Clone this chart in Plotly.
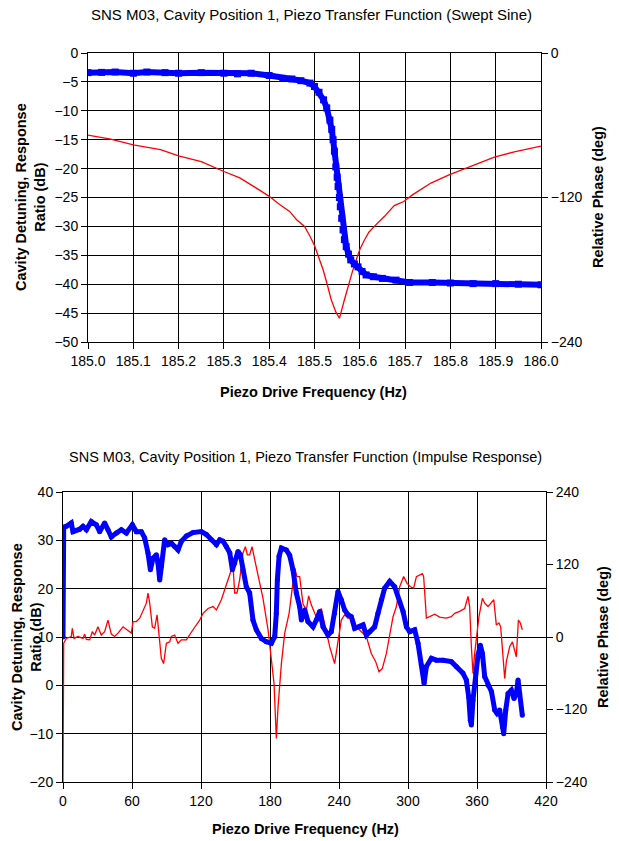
import plotly.graph_objects as go

# ---------------- Top chart: swept sine ----------------
top_red_freq = [185.00, 185.05, 185.10, 185.16, 185.20, 185.25, 185.30, 185.335, 185.37, 185.40,
                185.423, 185.445, 185.46, 185.478, 185.49, 185.50, 185.51, 185.519, 185.528, 185.537,
                185.547, 185.555, 185.565, 185.574, 185.583, 185.592, 185.60, 185.61, 185.62, 185.632,
                185.654, 185.676, 185.697, 185.717, 185.757, 185.797, 185.846, 185.897, 185.941, 186.00]
top_red_db = [-14.2, -14.9, -15.9, -16.7, -17.8, -18.8, -20.5, -21.6, -23.3, -24.8,
              -26.2, -27.4, -28.8, -30.0, -31.7, -33.3, -35.5, -37.5, -40.0, -42.7,
              -44.8, -45.9, -43.0, -40.4, -38.0, -35.8, -34.0, -32.4, -31.0, -30.0,
              -28.3, -26.4, -25.7, -24.5, -22.5, -21.1, -19.6, -18.0, -17.1, -16.1]

top_blue_freq = [185.00, 185.03, 185.06, 185.10, 185.13, 185.17, 185.20, 185.25, 185.30, 185.33,
                 185.36, 185.40, 185.43, 185.45, 185.47, 185.49, 185.50, 185.51, 185.52, 185.527,
                 185.534, 185.538, 185.541, 185.544, 185.547, 185.550, 185.552, 185.555, 185.557, 185.560,
                 185.563, 185.566, 185.570, 185.575, 185.580, 185.588, 185.596, 185.605, 185.614, 185.63,
                 185.65, 185.68, 185.71, 185.76, 185.80, 185.85, 185.90, 185.95, 186.00]
top_blue_deg = [-16.3, -16.1, -15.8, -16.8, -15.8, -16.3, -16.8, -16.3, -16.8, -17.3,
                -16.8, -18.7, -21.1, -21.6, -23.0, -25.0, -27.8, -32.6, -38.9, -45.6,
                -55.7, -63.4, -72.0, -81.6, -94.6, -103.2, -110.9, -120.0, -127.7, -137.3,
                -146.9, -155.0, -160.8, -167.0, -171.8, -175.2, -177.6, -181.4, -184.3, -185.8,
                -187.2, -188.6, -190.6, -190.6, -191.0, -191.5, -191.5, -192.0, -192.5]

# ---------------- Bottom chart: impulse response ----------------
bot_red_freq = [0, 0.6, 2.9, 7.2, 8.1, 9.6, 13.0, 17.4, 18.8, 20.3, 23.2, 25.5, 27.5, 30.4, 33.3,
                36.2, 39.1, 42.0, 44.9, 47.8, 52.2, 55.1, 59.4, 60.9, 63.8, 66.7, 69.6, 72.5, 73.9,
                75.4, 77.7, 79.7, 81.8, 83.5, 85.5, 87.5, 89.9, 92.8, 94.2, 97.1, 100.0, 102.9, 107.3,
                113.0, 118.9, 121.8, 126.1, 130.5, 133.4, 137.7, 140.6, 143.5, 146.4, 147.8, 149.3,
                151.3, 153.6, 156.5, 158.6, 160.3, 162.3, 164.4, 166.7, 169.6, 173.9, 178.3, 181.2,
                183.5, 185.5, 187.0, 189.9, 192.8, 196.6, 199.5, 201.5, 203.5, 205.8, 208.7, 211.6,
                213.6, 216.0, 218.9, 220.3, 224.6, 227.5, 231.9, 236.2, 239.1, 242.0, 244.9, 247.8,
                252.2, 255.1, 259.4, 263.8, 268.1, 271.9, 274.8, 277.7, 281.2, 284.1, 287.0, 289.9,
                292.8, 296.2, 299.2, 302.1, 304.9, 307.3, 310.2, 312.5, 313.6, 316.0, 318.9, 323.2,
                327.5, 333.3, 337.7, 340.6, 344.9, 349.3, 352.2, 353.6, 355.1, 356.5, 358.0, 359.4,
                361.7, 364.7, 366.7, 369.6, 372.6, 374.6, 376.8, 379.1, 380.6, 382.6, 384.1, 385.5,
                388.4, 390.8, 392.8, 394.2, 396.0, 397.7, 399.4]
bot_red_db = [-20, 8.7, 9.7, 10.1, 11.8, 9.7, 10.1, 9.7, 10.6, 9.5, 9.4, 11.1, 10.4, 12.1, 10.4,
              11.1, 13.5, 10.6, 10.1, 10.8, 12.1, 11.5, 10.8, 13.2, 13.2, 13.9, 15.6, 17.0, 19.1,
              17.0, 12.1, 11.8, 14.6, 10.8, 5.6, 4.5, 8.7, 9.0, 10.1, 10.4, 8.7, 9.4, 9.4,
              11.5, 13.5, 14.9, 15.9, 16.3, 15.6, 17.7, 19.8, 21.8, 23.9, 24.9, 19.1,
              19.1, 21.8, 27.4, 28.7, 27.0, 27.0, 28.7, 26.0, 22.5, 18.0, 11.5, 5.2,
              0.4, -11.0, -4.4, 4.5, 10.8, 14.9, 20.4, 24.2, 22.5, 22.5, 16.8, 15.6,
              18.5, 16.6, 14.9, 14.2, 15.9, 12.5, 8.0, 4.5, 9.4, 13.5, 14.6, 13.9,
              14.2, 12.1, 11.1, 10.1, 6.6, 4.9, 2.8, 3.5, 6.6, 10.1, 14.2, 16.3,
              20.4, 22.5, 21.1, 20.4, 20.1, 22.5, 22.9, 23.1, 22.5, 13.9, 14.2, 14.7,
              14.1, 13.9, 14.2, 14.9, 15.3, 15.9, 18.4, 16.3, 8.0, 2.5, 6.6, 10.1,
              14.2, 18.0, 17.0, 16.3, 17.3, 17.7, 12.5, 12.9, 12.1, 5.9, 1.4, 4.9,
              8.0, 9.0, 7.3, 5.9, 13.5, 12.9, 11.5]

bot_blue_freq = [0, 0.6, 2.9, 5.8, 7.2, 8.7, 14.5, 17.4, 20.3, 24.6, 29.0, 31.9, 36.2, 39.1, 42.0,
                 46.4, 50.7, 55.1, 60.3, 63.8, 68.1, 71.0, 73.9, 76.0, 78.3, 81.2, 82.6, 84.1, 85.5,
                 88.4, 91.3, 94.2, 97.1, 100.0, 102.9, 107.3, 113.0, 120.3, 124.7, 129.0, 133.4,
                 136.3, 139.2, 142.0, 145.0, 147.3, 149.3, 152.2, 154.2, 156.5, 159.4, 162.3, 165.2,
                 168.1, 172.5, 176.8, 181.2, 184.1, 185.5, 186.4, 187.9, 189.9, 194.2, 197.1, 200.0,
                 202.9, 205.8, 207.3, 210.2, 213.0, 217.4, 220.3, 223.2, 226.1, 230.4, 233.3, 236.2,
                 239.1, 242.0, 244.9, 247.8, 250.7, 253.6, 258.0, 260.9, 263.8, 266.7, 271.0, 273.9,
                 276.8, 279.7, 284.1, 288.4, 292.8, 295.7, 298.6, 301.5, 305.8, 308.7, 311.6, 314.0,
                 316.0, 320.3, 324.6, 330.4, 337.7, 342.0, 347.8, 350.7, 352.8, 354.2, 355.1, 356.5,
                 358.9, 360.9, 362.9, 364.7, 366.7, 369.6, 372.6, 375.4, 377.4, 379.7, 382.1, 383.2,
                 385.0, 387.0, 389.9, 392.2, 394.2, 395.7, 397.1, 399.4]
bot_blue_deg = [0.0, 181.6, 183.2, 185.6, 188.8, 174.4, 178.4, 183.2, 177.6, 191.2, 185.6, 174.4, 188.8, 177.6, 165.6,
                172.0, 177.6, 172.0, 185.6, 174.4, 174.4, 164.0, 139.2, 111.2, 130.4, 136.0, 122.4, 94.4, 116.8,
                160.8, 152.8, 155.2, 149.6, 144.0, 158.4, 167.2, 172.8, 174.4, 169.6, 160.8, 152.8,
                160.8, 158.4, 149.6, 139.2, 111.2, 122.4, 141.6, 136.0, 111.2, 83.2, 72.8, 28.0,
                12.0, -2.4, -8.0, -10.4, 0.8, 39.2, 94.4, 133.6, 147.2, 144.0, 135.2, 111.2,
                72.8, 50.4, 28.0, 44.8, 25.6, 16.8, 28.0, 42.4, 16.8, 3.2, 8.8, 39.2,
                75.2, 61.6, 44.8, 36.8, 33.6, 14.4, 16.8, 20.0, 3.2, 8.8, 16.8, 39.2,
                61.6, 80.8, 92.0, 83.2, 58.4, 42.4, 16.8, 8.8, 12.0, -10.4, -46.4, -76.8,
                -48.8, -35.2, -38.4, -38.4, -40.8, -48.8, -60.0, -71.2, -99.2, -137.6, -145.6, -104.8,
                -60.0, -29.6, -13.6, -27.2, -65.6, -80.0, -90.4, -120.8, -126.4, -120.8, -148.8, -160.0,
                -120.8, -93.6, -88.0, -101.6, -93.6, -71.2, -93.6, -129.6]

top_title = "SNS M03, Cavity Position 1, Piezo Transfer Function (Swept Sine)"
bot_title = "SNS M03, Cavity Position 1, Piezo Transfer Function (Impulse Response)"
x_title = "Piezo Drive Frequency (Hz)"
y_left_title = "Cavity Detuning, Response<br>Ratio (dB)"
y_right_title = "Relative Phase (deg)"

W, H = 619, 841
FONT = "Liberation Sans, Arial, sans-serif"
BLUE = "#0000FF"
RED = "#FF0000"

def px(x):
    return x / W

def py(y):
    return 1 - y / H

fig = go.Figure()

fig.add_trace(go.Scatter(x=top_blue_freq, y=top_blue_deg, xaxis="x", yaxis="y2", mode="lines+markers",
                         line=dict(color=BLUE, width=6), marker=dict(symbol="square", size=7, color=BLUE),
                         showlegend=False))
fig.add_trace(go.Scatter(x=top_red_freq, y=top_red_db, xaxis="x", yaxis="y", mode="lines",
                         line=dict(color=RED, width=1.3), showlegend=False))
fig.add_trace(go.Scatter(x=bot_blue_freq, y=bot_blue_deg, xaxis="x2", yaxis="y4", mode="lines+markers",
                         line=dict(color=BLUE, width=5), marker=dict(symbol="circle", size=5, color=BLUE),
                         showlegend=False))
fig.add_trace(go.Scatter(x=bot_red_freq, y=bot_red_db, xaxis="x2", yaxis="y3", mode="lines",
                         line=dict(color=RED, width=1.3), showlegend=False))

axis_common = dict(showline=True, linecolor="black", linewidth=1, ticks="outside", ticklen=6,
                   tickcolor="black", tickfont=dict(family=FONT, size=14, color="black"),
                   zeroline=False, gridcolor="black", gridwidth=1, automargin=False)

top_dom_x = [px(88), px(541)]
top_dom_y = [py(342), py(53)]
bot_dom_x = [px(63), px(546)]
bot_dom_y = [py(782), py(492)]

fig.update_layout(
    width=W, height=H, margin=dict(l=0, r=0, t=0, b=0, autoexpand=False),
    paper_bgcolor="white", plot_bgcolor="white",
    font=dict(family=FONT, color="black"),
    xaxis=dict(domain=top_dom_x, anchor="y", range=[185.0, 186.0], dtick=0.1, tick0=185.0,
               tickformat=".1f", showgrid=True, mirror=True, **axis_common),
    yaxis=dict(domain=top_dom_y, anchor="x", range=[-50, 0], dtick=5, showgrid=True, **axis_common),
    yaxis2=dict(overlaying="y", side="right", anchor="x", range=[-240, 0], dtick=120,
                showgrid=False, **axis_common),
    xaxis2=dict(domain=bot_dom_x, anchor="y3", range=[0, 420], dtick=60, tick0=0,
                showgrid=True, mirror=True, **axis_common),
    yaxis3=dict(domain=bot_dom_y, anchor="x2", range=[-20, 40], dtick=10, showgrid=True, **axis_common),
    yaxis4=dict(overlaying="y3", side="right", anchor="x2", range=[-240, 240], dtick=120,
                showgrid=False, **axis_common),
)

annotations = [
    dict(text=top_title, x=px(311), y=py(14), font=dict(size=15)),
    dict(text=bot_title, x=px(305), y=py(457), font=dict(size=14.5)),
    dict(text="<b>" + x_title + "</b>", x=px(313), y=py(392), font=dict(size=14.5)),
    dict(text="<b>" + x_title + "</b>", x=px(305), y=py(829), font=dict(size=14.5)),
    dict(text="<b>" + y_left_title + "</b>", x=px(30), y=py(197), textangle=-90, font=dict(size=14.5)),
    dict(text="<b>" + y_left_title + "</b>", x=px(26), y=py(637), textangle=-90, font=dict(size=14.5)),
    dict(text="<b>" + y_right_title + "</b>", x=px(598), y=py(197), textangle=-90, font=dict(size=14.5)),
    dict(text="<b>" + y_right_title + "</b>", x=px(603), y=py(637), textangle=-90, font=dict(size=14.5)),
]
for a in annotations:
    a.update(xref="paper", yref="paper", showarrow=False, xanchor="center", yanchor="middle")
    a["font"].update(family=FONT, color="black")
fig.update_layout(annotations=annotations)

fig.write_html("out.html", config={"displayModeBar": False},
               post_script="document.body.style.margin='0';document.body.style.padding='0';")
